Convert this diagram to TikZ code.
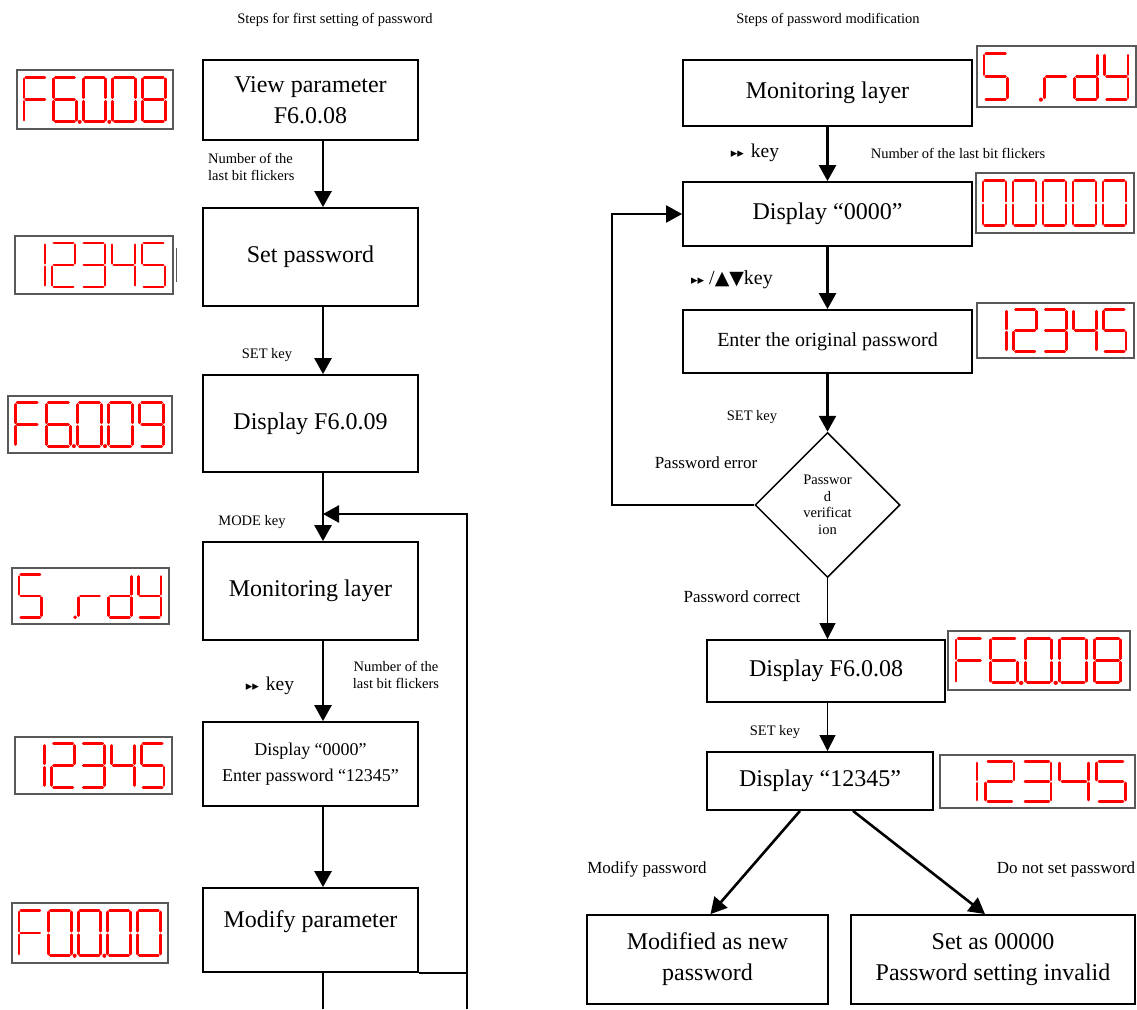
\documentclass[tikz,border=0pt]{standalone}
\usepackage{fontspec}
\setmainfont{Liberation Serif}
\newfontfamily\symfont{DejaVu Sans}
\usetikzlibrary{arrows.meta,shapes.geometric,calc}

% seven-segment pieces (unit cell: x 0..1, y 0..2, y downwards)
\def\sgA{0.08/0/0.92/0}
\def\sgB{1/0.08/1/0.92}
\def\sgC{1/1.08/1/1.92}
\def\sgD{0.08/2/0.92/2}
\def\sgE{0/1.08/0/1.92}
\def\sgF{0/0.08/0/0.92}
\def\sgG{0.08/1/0.92/1}
\edef\chZero{\sgA,\sgB,\sgC,\sgD,\sgE,\sgF}
\edef\chOne{\sgB,\sgC}
\edef\chTwo{\sgA,\sgB,\sgG,\sgE,\sgD}
\edef\chThree{\sgA,\sgB,\sgG,\sgC,\sgD}
\edef\chFour{\sgF,\sgG,\sgB,\sgC}
\edef\chFive{\sgA,\sgF,\sgG,\sgC,\sgD}
\edef\chSix{\sgA,\sgF,\sgG,\sgE,\sgD,\sgC}
\edef\chEight{\sgA,\sgB,\sgC,\sgD,\sgE,\sgF,\sgG}
\edef\chNine{\sgA,\sgB,\sgC,\sgD,\sgF,\sgG}
\edef\chEff{\sgA,\sgF,\sgE,\sgG}
\edef\chAr{\sgE,\sgG}
\edef\chDee{\sgB,\sgC,\sgD,\sgE,\sgG}
\edef\chWhy{\sgF,\sgB,\sgG,\sgC,\sgD}

\newcommand\ledch[2]{\begin{scope}[shift={(7+30*#1,7)},x=23pt,y=-22pt]
  \foreach \pa/\pb/\pc/\pd in #2 {\draw[ledseg] (\pa,\pb)--(\pc,\pd);}
  \end{scope}}
\newcommand\leddot[1]{\fill[ledred] (33.5+30*#1,51) circle[radius=2];}
\newcommand\ledpanel[5]{\begin{scope}[shift={(#1,#2)},xscale=#3/158,yscale=#4/58]
  \draw[ledframe] (0,0) rectangle (158,58);
  #5
  \end{scope}}
\newcommand\ffkey[1]{{\symfont\fontsize{13}{13}\selectfont ▸▸}#1}

\begin{document}
\begin{tikzpicture}[x=1pt,y=-1pt,
  box/.style={draw,line width=1.8pt,inner sep=0pt,align=center,
    font=\fontsize{24}{31}\selectfont},
  lbl/.style={font=\fontsize{14.5}{17.5}\selectfont,align=center,inner sep=1pt},
  mlbl/.style={font=\fontsize{17}{20}\selectfont,inner sep=1pt},
  keylbl/.style={font=\fontsize{19.5}{22}\selectfont,inner sep=1pt},
  arr/.style={line width=2.6pt,-{Triangle[length=16pt,width=17pt]}},
  ln/.style={line width=2.2pt},
  thinarr/.style={line width=1pt,-{Triangle[length=16pt,width=16pt]}},
  ledred/.style={fill={rgb,255:red,255;green,0;blue,0}},
  ledseg/.style={draw={rgb,255:red,255;green,0;blue,0},line width=2.8pt,line cap=round},
  ledframe/.style={draw=black!65,line width=2pt,fill=white}]
\useasboundingbox (0,0) rectangle (1137,1009);

% ---------------- titles
\node[lbl] (t1) at (335,20) {Steps for first setting of password};
\node[lbl] (t2) at (828,20) {Steps of password modification};

% ---------------- left column
\node[box,minimum width=215pt,minimum height=80pt] (L1) at (310.5,100) {View parameter\\F6.0.08};
\node[box,minimum width=215pt,minimum height=98pt] (L2) at (310.5,257) {Set password};
\node[box,minimum width=215pt,minimum height=97pt] (L3) at (310.5,423.5) {Display F6.0.09};
\node[box,minimum width=215pt,minimum height=98pt] (L4) at (310.5,591) {Monitoring layer};
\node[box,minimum width=215pt,minimum height=84pt,font=\fontsize{18}{26}\selectfont] (L5) at (310.5,764) {Display “0000”\\Enter password “12345”};
\node[box,minimum width=215pt,minimum height=84pt,text depth=22pt] (L6) at (310.5,930) {Modify parameter};

\coordinate (ax) at (323,0);
\coordinate (rx) at (467,1009);
\coordinate (mj) at (323,514);
\coordinate (lb) at (323,1009);

\draw[arr] (L1.south -| ax) -- (L2.north -| ax);
\draw[arr] (L2.south -| ax) -- (L3.north -| ax);
\draw[arr] (L3.south -| ax) -- (L4.north -| ax);
\draw[arr] (L4.south -| ax) -- (L5.north -| ax);
\draw[arr] (L5.south -| ax) -- (L6.north -| ax);
\draw[ln] (L6.south -| ax) -- (lb);
\draw[ln] (L6.south east) -- (L6.south east -| rx);
\draw[arr] (rx) |- (mj);

\node[lbl,align=left,anchor=west] (n1) at (207,167) {Number of the\\last bit flickers};
\node[lbl] (s1) at (267,355) {SET key};
\node[lbl] (m1) at (252,522) {MODE key};
\node[keylbl] (k1) at (270,686) {\ffkey{\hspace{7pt}key}};
\node[lbl] (n2) at (396,675) {Number of the\\last bit flickers};

% ---------------- right column
\node[box,minimum width=289pt,minimum height=66pt] (R1) at (827.5,93) {Monitoring layer};
\node[box,minimum width=289pt,minimum height=64pt] (R2) at (827.5,214) {Display “0000”};
\node[box,minimum width=289pt,minimum height=63pt,font=\fontsize{20}{24}\selectfont] (R3) at (827.5,341.5) {Enter the original password};
\node[diamond,draw,line width=1.5pt,minimum width=145pt,minimum height=145pt,inner sep=0pt,
  align=center,font=\fontsize{14.5}{16.5}\selectfont] (D) at (827.5,505) {Passwor\\d\\verificat\\ion};
\node[box,minimum width=238pt,minimum height=62pt] (R4) at (826,671) {Display F6.0.08};
\node[box,minimum width=226pt,minimum height=58pt] (R5) at (820,781) {Display “12345”};
\node[box,minimum width=241pt,minimum height=89pt] (BL) at (707.5,959.5) {Modified as new\\password};
\node[box,minimum width=284pt,minimum height=89pt] (BR) at (993,959.5) {Set as 00000\\Password setting invalid};

\coordinate (fb) at (612,0);
\draw[arr] (R1.south) -- (R2.north);
\draw[arr] (R2.south) -- (R3.north);
\draw[arr] (R3.south) -- (D.north);
\draw[arr,line width=2.2pt] (D.west) -- (D.west -| fb) |- (R2.west);
\draw[thinarr] (D.south) -- (D.south |- R4.north);
\draw[thinarr] (R4.south -| D.south) -- (R5.north -| D.south);
\draw[arr] ($(R5.south)+(-20,0)$) -- ($(BL.north)+(3,0)$);
\draw[arr] ($(R5.south)+(33,0)$) -- ($(BR.north)+(-8,0)$);

\node[keylbl] (k2) at (755,153) {\ffkey{\hspace{7pt}key}};
\node[lbl] (n3) at (958,153) {Number of the last bit flickers};
\node[keylbl,font=\fontsize{20}{22}\selectfont] (k3) at (732,280) {\ffkey{ /{\symfont\fontsize{19}{19}\selectfont ▲▼}key}};
\node[lbl] (s2) at (752,417) {SET key};
\node[mlbl] (pe) at (706,463) {Password error};
\node[mlbl] (pc) at (742,597) {Password correct};
\node[lbl] (s3) at (775,732) {SET key};
\node[mlbl] (mp) at (647,869) {Modify password};
\node[mlbl] (dn) at (1066,869) {Do not set password};

% ---------------- LED displays
\ledpanel{17}{70}{156}{59}{\ledch{0}{\chEff}\ledch{1}{\chSix}\leddot{1}\ledch{2}{\chZero}\leddot{2}\ledch{3}{\chZero}\ledch{4}{\chEight}}
\ledpanel{15}{236}{158}{58}{\ledch{0}{\chOne}\ledch{1}{\chTwo}\ledch{2}{\chThree}\ledch{3}{\chFour}\ledch{4}{\chFive}}
\draw[draw=black!65,line width=1.8pt] (176.5,248) -- (176.5,282);
\ledpanel{8}{396}{164}{57}{\ledch{0}{\chEff}\ledch{1}{\chSix}\leddot{1}\ledch{2}{\chZero}\leddot{2}\ledch{3}{\chZero}\ledch{4}{\chNine}}
\ledpanel{12}{568}{157}{56}{\ledch{0}{\chFive}\leddot{1}\ledch{2}{\chAr}\ledch{3}{\chDee}\ledch{4}{\chWhy}}
\ledpanel{15}{737}{157}{57}{\ledch{0}{\chOne}\ledch{1}{\chTwo}\ledch{2}{\chThree}\ledch{3}{\chFour}\ledch{4}{\chFive}}
\ledpanel{12}{903}{156}{60}{\ledch{0}{\chEff}\ledch{1}{\chZero}\leddot{1}\ledch{2}{\chZero}\leddot{2}\ledch{3}{\chZero}\ledch{4}{\chZero}}

\ledpanel{977}{46}{159}{61}{\ledch{0}{\chFive}\leddot{1}\ledch{2}{\chAr}\ledch{3}{\chDee}\ledch{4}{\chWhy}}
\ledpanel{976}{173}{158}{60}{\ledch{0}{\chZero}\ledch{1}{\chZero}\ledch{2}{\chZero}\ledch{3}{\chZero}\ledch{4}{\chZero}}
\ledpanel{977}{303}{157}{55}{\ledch{0}{\chOne}\ledch{1}{\chTwo}\ledch{2}{\chThree}\ledch{3}{\chFour}\ledch{4}{\chFive}}
\ledpanel{948}{631}{182}{59}{\ledch{0}{\chEff}\ledch{1}{\chSix}\leddot{1}\ledch{2}{\chZero}\leddot{2}\ledch{3}{\chZero}\ledch{4}{\chEight}}
\ledpanel{940}{755}{195}{53}{\ledch{0}{\chOne}\ledch{1}{\chTwo}\ledch{2}{\chThree}\ledch{3}{\chFour}\ledch{4}{\chFive}}
\end{tikzpicture}
\end{document}
